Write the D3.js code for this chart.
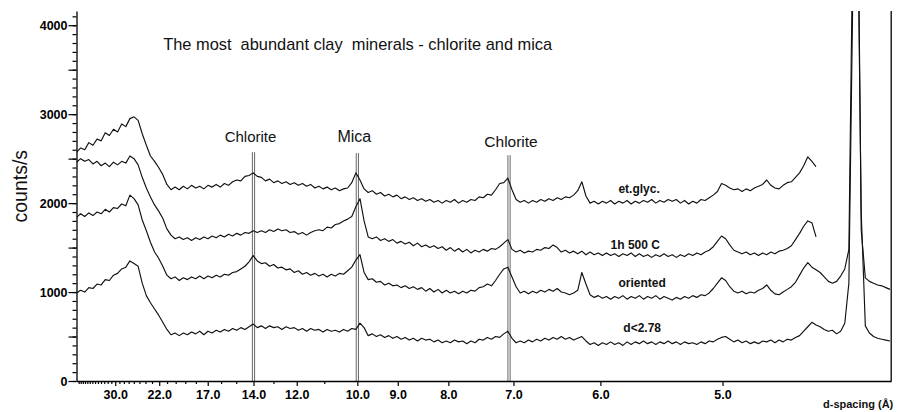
<!DOCTYPE html>
<html><head><meta charset="utf-8">
<script src="https://cdn.jsdelivr.net/npm/d3@7"></script>
<style>
body{margin:0;background:#fff}
svg{display:block;font-family:"Liberation Sans",Arial,Helvetica,sans-serif}
</style>
</head><body>
<svg id="c" width="897" height="412"></svg>
<script>
// ---- data ----
const wavelength = 1.5406;           // Cu K-alpha, Å
const twoThetaStart = 2.0;           // measurement grid, degrees 2θ
const twoThetaStep = 0.1;

const seriesNames = ["et.glyc.", "1h 500 C", "oriented", "d<2.78"];

const etGlyc = [
2570,2620,2600,2680,2650,2720,2700,2790,2760,2830,
2800,2890,2860,2950,2970,2930,2780,2650,2530,2470,
2400,2320,2210,2150,2180,2150,2190,2160,2200,2170,
2190,2160,2200,2180,2210,2180,2220,2200,2240,2260,
2250,2300,2310,2340,2300,2290,2250,2270,2230,2250,
2220,2240,2210,2230,2200,2220,2190,2210,2170,2190,
2160,2180,2150,2170,2140,2160,2170,2230,2340,2260,
2160,2120,2140,2100,2120,2080,2100,2070,2090,2050,
2070,2040,2060,2030,2050,2020,2040,2010,2030,2000,
2030,2010,2040,2000,2030,2010,2040,2030,2070,2060,
2100,2090,2150,2220,2230,2280,2150,2040,2010,2030,
2000,2030,2010,2040,2020,2050,2030,2060,2040,2070,
2060,2090,2140,2240,2080,2000,2020,1990,2020,2000,
2030,1990,2020,2000,2030,1990,2020,2000,2030,2010,
2040,2000,2030,2010,2040,2020,2040,2000,2030,1990,
2020,2000,2040,2030,2060,2090,2130,2220,2200,2170,
2150,2160,2130,2160,2140,2170,2190,2210,2260,2200,
2170,2160,2200,2230,2240,2290,2340,2420,2520,2470,
2410];

const h500 = [
2460,2500,2470,2490,2440,2470,2420,2450,2410,2460,
2430,2470,2450,2530,2500,2430,2290,2170,2070,1980,
1910,1830,1710,1640,1600,1620,1590,1610,1580,1610,
1590,1620,1600,1630,1610,1640,1620,1650,1630,1660,
1640,1670,1660,1690,1670,1690,1670,1700,1680,1710,
1690,1700,1670,1680,1650,1670,1640,1670,1690,1700,
1690,1730,1720,1760,1770,1800,1820,1850,1960,2050,
1800,1620,1600,1620,1580,1600,1570,1590,1550,1570,
1540,1560,1520,1550,1510,1530,1500,1520,1490,1510,
1470,1500,1460,1490,1450,1480,1440,1470,1450,1480,
1460,1490,1480,1510,1550,1590,1480,1450,1470,1440,
1460,1450,1480,1470,1500,1490,1530,1500,1450,1470,
1440,1460,1430,1460,1420,1450,1420,1440,1410,1440,
1410,1430,1400,1430,1410,1440,1400,1430,1400,1420,
1390,1420,1400,1430,1400,1420,1390,1420,1400,1430,
1410,1440,1420,1450,1470,1510,1570,1630,1600,1530,
1470,1450,1430,1450,1420,1440,1410,1440,1420,1450,
1430,1460,1470,1490,1520,1590,1660,1740,1800,1780,
1620];

const oriented = [
1840,1880,1850,1890,1860,1900,1880,1930,1900,1950,
1940,1990,1970,2090,2050,1980,1810,1690,1560,1450,
1380,1290,1190,1150,1170,1130,1160,1140,1170,1150,
1180,1150,1180,1160,1190,1170,1200,1190,1220,1230,
1260,1290,1340,1410,1350,1320,1330,1290,1310,1270,
1280,1250,1260,1220,1240,1200,1220,1190,1210,1180,
1200,1170,1200,1180,1210,1200,1240,1280,1360,1420,
1220,1140,1150,1110,1120,1080,1100,1070,1080,1050,
1070,1040,1060,1030,1050,1010,1040,1000,1030,990,
1020,990,1010,980,1010,990,1020,1010,1050,1060,
1090,1070,1130,1200,1260,1280,1170,1060,990,1010,
980,1010,990,1020,1000,1030,1010,1040,1000,990,
970,990,1020,1220,1090,970,940,960,930,950,
920,950,930,960,920,950,930,960,920,950,
930,960,920,950,930,910,940,920,950,930,
960,940,970,960,990,1040,1100,1160,1130,1060,
1010,990,1010,980,1000,990,1020,1040,1080,1020,
980,970,1000,1030,1060,1110,1190,1270,1330,1280,
1250,1220,1170,1120,1100,1120,1180,1260,1480,5200,
6500,1700,1160,1120,1100,1080,1070,1050,1030];

const dLess = [
990,1020,1000,1050,1040,1090,1080,1140,1130,1190,
1210,1260,1280,1350,1320,1290,1100,960,880,810,
740,660,580,520,540,510,540,520,550,530,
560,520,560,540,570,550,580,560,590,570,
600,580,610,640,600,620,590,620,600,610,
580,610,590,600,570,590,560,590,570,580,
550,580,560,570,550,580,560,590,580,650,
600,510,530,500,520,490,510,480,500,470,
490,460,480,450,480,460,470,440,460,430,
450,430,460,440,450,420,450,430,470,460,
490,470,500,490,530,560,480,430,450,430,
460,440,470,450,480,460,490,470,500,470,
490,460,480,500,450,410,430,400,430,410,
440,410,430,400,440,410,440,420,450,420,
440,410,440,420,450,420,440,410,440,420,
430,410,440,420,450,440,470,490,500,470,
440,460,430,450,420,440,420,450,440,460,
430,460,440,470,460,490,510,560,610,660,
630,610,580,560,570,530,560,650,1100,4500,
5800,1900,620,540,500,480,470,460,450];

const xTickD = [30.0, 22.0, 17.0, 14.0, 12.0, 10.0, 9.0, 8.0, 7.0, 6.0, 5.0];
const xMinorD = [43,42,41,40,39,38,37,36,35,34,33,32,31,29,28,27,26,25,24,23,21,20,19,18,16,15,13,11];
const yTicks = [0, 1000, 2000, 3000, 4000];
const refNames = ["Chlorite", "Mica", "Chlorite"];
const refD = [14.0, 10.0, 7.06];
const titleText = "The most  abundant clay  minerals - chlorite and mica";
const yTitle = "counts/s";
const xTitle = "d-spacing (Å)";

// ---- chart ----
const svg = d3.select("#c");
const x = d3.scaleLinear().domain([2.0, 21.83]).range([76.5, 891.2]);
const y = d3.scaleLinear().domain([0, 4160]).range([381, 11]);
const toTwoTheta = d => 2 * Math.asin(wavelength / (2 * d)) * 180 / Math.PI;

svg.append("defs").append("clipPath").attr("id", "plot")
  .append("rect").attr("x", x(2.0)).attr("y", y(4160))
  .attr("width", x(21.83) - x(2.0)).attr("height", y(0) - y(4160));

// reference double lines
const refTop = [2573, 2562, 2539];
const refLabelY = [2684, 2684, 2630];
const refFont = [15, 16, 15.5];
refD.forEach((d, i) => {
  const cx = x(toTwoTheta(d));
  [-1.1, 1.1].forEach(off => {
    svg.append("line").attr("x1", cx + off).attr("x2", cx + off)
      .attr("y1", y(refTop[i])).attr("y2", y(0))
      .attr("stroke", "#555").attr("stroke-width", 0.9);
  });
  svg.append("text").attr("x", cx + (i === 2 ? 2 : -3)).attr("y", y(refLabelY[i]))
    .attr("text-anchor", "middle").attr("font-size", refFont[i]).attr("fill", "#111")
    .text(refNames[i]);
});

// traces
const line = d3.line().x(d => x(d[0])).y(d => y(d[1]));
const g = svg.append("g").attr("clip-path", "url(#plot)");
[etGlyc, h500, oriented, dLess].forEach(vals => {
  const pts = vals.map((v, i) => [twoThetaStart + i * twoThetaStep, v]);
  g.append("path").attr("d", line(pts)).attr("fill", "none")
    .attr("stroke", "#111").attr("stroke-width", 1.15).attr("stroke-linejoin", "round");
});

// series labels
const labelPos = [[15.19, 2112], [15.0, 1483], [15.19, 1056], [15.31, 551]];
seriesNames.forEach((s, i) => {
  svg.append("text").attr("x", x(labelPos[i][0])).attr("y", y(labelPos[i][1]))
    .attr("font-size", 12).attr("font-weight", "bold").attr("fill", "#111").text(s);
});

// y axis
function styleAxis(sel) {
  sel.attr("font-family", null).attr("font-size", null);
  sel.selectAll("line").attr("stroke", "#000").attr("stroke-width", 1.2);
  sel.selectAll("path").attr("stroke", "#000").attr("stroke-width", 1.3);
  sel.selectAll("text").attr("font-size", 12.5).attr("font-weight", "bold").attr("fill", "#000");
}
const yMinorAxis = d3.axisLeft(y).tickValues(d3.range(0, 4101, 100)).tickSize(4).tickSizeOuter(0).tickFormat("");
const yMidAxis = d3.axisLeft(y).tickValues([500, 1500, 2500, 3500]).tickSize(8).tickSizeOuter(0).tickFormat("");
const yMajorAxis = d3.axisLeft(y).tickValues(yTicks).tickSize(8).tickSizeOuter(0).tickPadding(1).tickFormat(d3.format("d"));
[yMinorAxis, yMidAxis, yMajorAxis].forEach((ax, k) => {
  const a = svg.append("g").attr("transform", `translate(${x(2.0)},0)`).call(ax).call(styleAxis);
  if (k < 2) a.select(".domain").remove();
});

// x axis
const xMinorAxis = d3.axisBottom(x).tickValues(xMinorD.map(toTwoTheta)).tickSize(3).tickSizeOuter(0).tickFormat("");
const xMajorAxis = d3.axisBottom(x).tickValues(xTickD.map(toTwoTheta)).tickSize(5).tickSizeOuter(0).tickPadding(4)
  .tickFormat((t, i) => xTickD[i].toFixed(1));
svg.append("g").attr("transform", `translate(0,${y(0)})`).call(xMinorAxis).call(styleAxis).select(".domain").remove();
svg.append("g").attr("transform", `translate(0,${y(0)})`).call(xMajorAxis).call(styleAxis);

// right frame line
svg.append("line").attr("x1", x(21.83)).attr("x2", x(21.83)).attr("y1", y(4160)).attr("y2", y(0))
  .attr("stroke", "#000").attr("stroke-width", 1.3);

// titles
svg.append("text").attr("x", x(4.11)).attr("y", y(3719)).attr("font-size", 16.4)
  .attr("xml:space", "preserve").style("white-space", "pre").attr("fill", "#111").text(titleText);
svg.append("text").attr("transform", `translate(27,${y(2190)}) rotate(-90)`)
  .attr("text-anchor", "middle").attr("font-size", 19.5).attr("fill", "#111").text(yTitle);
svg.append("text").attr("x", 823).attr("y", 408).attr("font-size", 11).attr("font-weight", "bold")
  .attr("fill", "#111").text(xTitle);
</script>
</body></html>
